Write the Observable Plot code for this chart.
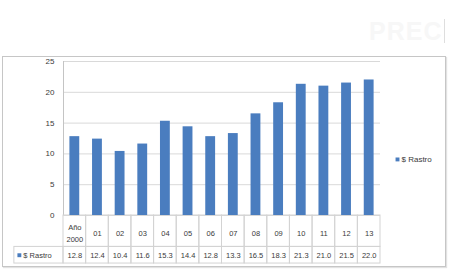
<!DOCTYPE html>
<html><head><meta charset="utf-8">
<script src="https://cdn.jsdelivr.net/npm/d3@7"></script>
<script src="https://cdn.jsdelivr.net/npm/@observablehq/plot@0.6"></script>
<style>
body{margin:0;background:#fff;}
#wrap{position:relative;width:450px;height:272px;overflow:hidden;font-family:"Liberation Sans",Arial,sans-serif;}
#frame{position:absolute;left:2px;top:56px;width:442px;height:209px;border:1px solid #c6c6c6;box-shadow:1px 1px 1px #e2e2e2;}
#title{position:absolute;left:369px;top:17px;font-size:25px;font-weight:bold;color:#f7f7f7;letter-spacing:1px;}
#bar{position:absolute;left:444px;top:19px;width:1px;height:24px;background:#dedede;}
#chart{position:absolute;left:0;top:0;}
</style></head><body>
<div id="wrap"><div id="frame"></div><div id="title">PREC</div><div id="bar"></div><div id="chart"></div></div>
<script>
const categories = ["Año\n2000","01","02","03","04","05","06","07","08","09","10","11","12","13"];
const values = [12.8,12.4,10.4,11.6,15.3,14.4,12.8,13.3,16.5,18.3,21.3,21.0,21.5,22.0];
const seriesName = "$ Rastro";
const yTicks = [0,5,10,15,20,25];

const data = categories.map((c,i)=>({cat:c,i,value:values[i]}));
const ROW1 = -5.1, ROW2 = -7.8, HEADX = -2.17, LABY = -2.65, VALY = -6.45;
const blue = "#4a7dbf", grid = "#d9d9d9", cell = "#d3d3d3";

const plot = Plot.plot({
  width: 450, height: 272,
  marginLeft: 63, marginRight: 70, marginTop: 61, marginBottom: 57,
  x: {domain: [0, categories.length], axis: null},
  y: {domain: [0, 25], axis: null},
  style: {fontSize: "7.5px", fontFamily: "'Liberation Sans', Arial, sans-serif", color: "#3a3a3a", background: "transparent", overflow: "visible"},
  marks: [
    Plot.ruleY(yTicks, {x1: 0, x2: categories.length, stroke: grid}),
    Plot.ruleX([0], {y1: 0, y2: 25, stroke: "#c4c4c4"}),
    Plot.rect(data, {x1: d=>d.i, x2: d=>d.i+1, y1: ROW1, y2: 0, fill: "none", stroke: cell}),
    Plot.rect(data, {x1: d=>d.i, x2: d=>d.i+1, y1: ROW2, y2: ROW1, fill: "none", stroke: cell}),
    Plot.rect([seriesName], {x1: HEADX, x2: 0, y1: ROW2, y2: ROW1, fill: "none", stroke: cell}),
    Plot.rect(data, {x1: d=>d.i, x2: d=>d.i+1, y1: 0, y2: "value", fill: blue, insetLeft: 6.4, insetRight: 6.4}),
    Plot.axisY({ticks: yTicks, tickSize: 0, tickPadding: 9, label: null, fontSize: 8}),
    Plot.text(data, {x: d=>d.i+0.5, y: LABY, text: "cat", lineHeight: 1.6}),
    Plot.text(data, {x: d=>d.i+0.5, y: VALY, text: d=>d.value.toFixed(1)}),
    Plot.dot([seriesName], {x: HEADX, y: VALY, dx: 5, symbol: "square", r: 2.2, fill: blue}),
    Plot.text([seriesName], {x: HEADX, y: VALY, dx: 9, textAnchor: "start", text: d=>d}),
    Plot.dot([seriesName], {x: categories.length, y: 9.1, dx: 17, symbol: "square", r: 2.2, fill: blue}),
    Plot.text([seriesName], {x: categories.length, y: 9.1, dx: 21, textAnchor: "start", fontSize: 8, text: d=>d})
  ]
});
document.getElementById("chart").appendChild(plot);
</script>
</body></html>
